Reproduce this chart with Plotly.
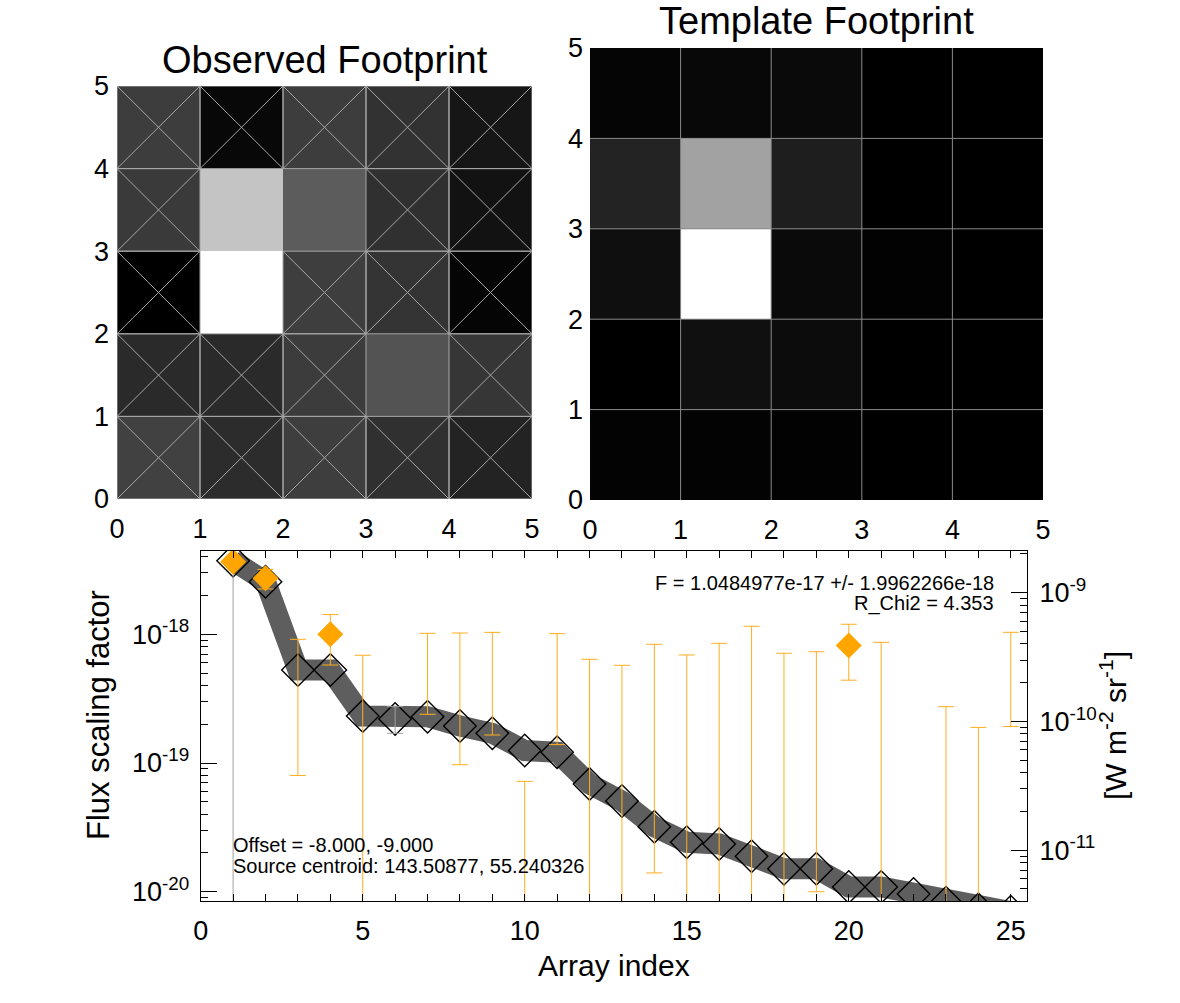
import math
import plotly.graph_objects as go

W, H = 1180, 1003
FONT = "Liberation Sans, Arial, Helvetica, sans-serif"

# ---------------- data ----------------
# grey levels (0-255), rows listed from bottom (y=0..1) to top (y=4..5)
obs_gray = [
    [65, 44, 62, 48, 35],
    [42, 42, 60, 83, 54],
    [0, 255, 62, 52, 5],
    [58, 196, 92, 48, 18],
    [61, 8, 61, 50, 22],
]
# 1 = pixel crossed out (masked) in the observed footprint
obs_masked = [
    [1, 1, 1, 1, 1],
    [1, 1, 1, 0, 1],
    [1, 0, 1, 1, 1],
    [1, 0, 0, 1, 1],
    [1, 1, 1, 1, 1],
]
tmpl_gray = [
    [3, 3, 2, 0, 0],
    [0, 16, 12, 0, 0],
    [15, 255, 10, 2, 0],
    [35, 162, 30, 0, 0],
    [5, 8, 10, 0, 0],
]

array_index = list(range(1, 26))
model_flux = [3.73e-18, 2.56e-18, 5.28e-19, 5.28e-19, 2.32e-19, 2.20e-19, 2.29e-19,
              1.94e-19, 1.70e-19, 1.25e-19, 1.21e-19, 6.87e-20, 5.07e-20, 3.20e-20,
              2.42e-20, 2.35e-20, 1.89e-20, 1.51e-20, 1.51e-20, 1.09e-20, 1.09e-20,
              9.6e-21, 8.2e-21, 7.3e-21, 7.0e-21]
data_flux = [3.66e-18, 2.72e-18, 4.97e-19, 1.00e-18, 2.5e-19, 2.22e-19, 6.28e-19,
             5.60e-19, 6.00e-19, -3.6e-19, 5.75e-19, 2.0e-19, 1.4e-19, 4.25e-19,
             2.6e-19, 4.1e-19, 5.6e-19, 2.8e-19, 3.71e-19, 8.18e-19, 4.3e-19,
             -5.0e-19, -1.6e-19, -2.4e-19, 6.14e-19]
data_err = [3.7e-18, 4.7e-19, 4.17e-19, 4.23e-19, 4.37e-19, 5.2e-20, 3.89e-19,
            4.63e-19, 4.35e-19, 4.32e-19, 4.36e-19, 4.39e-19, 4.34e-19, 4.11e-19,
            4.31e-19, 4.41e-19, 5.94e-19, 4.32e-19, 3.61e-19, 3.78e-19, 4.36e-19,
            4.3e-19, 4.34e-19, 4.29e-19, 4.22e-19]
detected_idx = [1, 2, 4, 20]
grey_bar_idx = [1, 6]
flux_to_surface = 4.752e8   # right-axis conversion factor
fit_text = ["F = 1.0484977e-17 +/- 1.9962266e-18", "R_Chi2 = 4.353"]
info_text = ["Offset = -8.000, -9.000", "Source centroid: 143.50877, 55.240326"]

yrange_log = [-20.072, -17.353]
xrange_bottom = [0, 25.5]

# ---------------- helpers ----------------
def fx(p):
    return p / W

def fy(p):
    return 1 - p / H

centers = [0.5, 1.5, 2.5, 3.5, 4.5]
gray_scale = [[0, "#000000"], [1, "#ffffff"]]

fig = go.Figure()

# Observed footprint
fig.add_trace(go.Heatmap(z=obs_gray, x=centers, y=centers, colorscale=gray_scale,
                         zmin=0, zmax=255, showscale=False, hoverinfo="skip",
                         xaxis="x", yaxis="y"))
cx, cy = [], []
for r, row in enumerate(obs_masked):
    for c, m in enumerate(row):
        if m:
            cx += [c, c + 1, c + 1, c, c, None, c, c + 1, None, c, c + 1, None]
            cy += [r, r, r + 1, r + 1, r, None, r, r + 1, None, r + 1, r, None]
fig.add_trace(go.Scatter(x=cx, y=cy, mode="lines", line=dict(color="#a6a6a6", width=1),
                         hoverinfo="skip", showlegend=False, xaxis="x", yaxis="y"))

# Template footprint
fig.add_trace(go.Heatmap(z=tmpl_gray, x=centers, y=centers, colorscale=gray_scale,
                         zmin=0, zmax=255, showscale=False, hoverinfo="skip",
                         xaxis="x2", yaxis="y2"))
gx, gy = [], []
for k in range(1, 5):
    gx += [k, k, None, 0, 5, None]
    gy += [0, 5, None, k, k, None]
fig.add_trace(go.Scatter(x=gx, y=gy, mode="lines", line=dict(color="#8a8a8a", width=1),
                         hoverinfo="skip", showlegend=False, xaxis="x2", yaxis="y2"))

# Bottom panel
fig.add_trace(go.Scatter(x=array_index, y=model_flux, mode="lines",
                         line=dict(color="#5e5e5e", width=21),
                         showlegend=False, xaxis="x3", yaxis="y3"))
fig.add_trace(go.Scatter(x=array_index, y=model_flux, mode="markers",
                         marker=dict(symbol="diamond-open", size=25, color="black",
                                     line=dict(width=1.4, color="black")),
                         showlegend=False, xaxis="x3", yaxis="y3"))

top_vals = [v + e for v, e in zip(data_flux, data_err)]
def bar_trace(sel, color):
    xs, ys, minus = [], [], []
    for i, t, e in zip(array_index, top_vals, data_err):
        if sel(i) and t > 0:
            xs.append(i)
            ys.append(t)
            minus.append(2 * e)
    return go.Scatter(x=xs, y=ys, mode="markers", marker=dict(size=2, opacity=0),
                      error_y=dict(type="data", symmetric=False, array=[0] * len(xs),
                                   arrayminus=minus, color=color, thickness=1, width=8),
                      showlegend=False, hoverinfo="skip", xaxis="x3", yaxis="y3")

fig.add_trace(bar_trace(lambda i: i not in grey_bar_idx, "#ffad1f"))
fig.add_trace(bar_trace(lambda i: i in grey_bar_idx, "#a0a0a0"))

fig.add_trace(go.Scatter(x=[i for i in array_index if i in detected_idx],
                         y=[v for i, v in zip(array_index, data_flux) if i in detected_idx],
                         mode="markers",
                         marker=dict(symbol="diamond", size=20, color="#ffa500",
                                     line=dict(width=0)),
                         showlegend=False, xaxis="x3", yaxis="y3"))

# invisible trace that carries the right-hand (surface brightness) axis
fig.add_trace(go.Scatter(x=array_index, y=[m * flux_to_surface for m in model_flux],
                         mode="lines", line=dict(width=0), opacity=0,
                         hoverinfo="skip", showlegend=False, xaxis="x3", yaxis="y4"))

# ---------------- layout ----------------
tick_font = dict(family=FONT, size=27, color="black")
img_ax = dict(range=[0, 5], tickmode="array", tickvals=[0, 1, 2, 3, 4, 5], ticks="",
              showgrid=False, zeroline=False, showline=False, tickfont=tick_font,
              fixedrange=True)

dec_lo, dec_hi = math.floor(yrange_log[0]), math.ceil(yrange_log[1])
left_major = [10.0 ** d for d in range(dec_lo, dec_hi + 1)]
left_minor = [k * 10.0 ** d for d in range(dec_lo, dec_hi) for k in range(2, 10)]
shift = math.log10(flux_to_surface)
r_range = [yrange_log[0] + shift, yrange_log[1] + shift]
rdec_lo, rdec_hi = math.floor(r_range[0]), math.ceil(r_range[1])
right_major = [10.0 ** d for d in range(rdec_lo, rdec_hi + 1)]
right_minor = [k * 10.0 ** d for d in range(rdec_lo, rdec_hi) for k in range(2, 10)]

def pow_label(v):
    return "10<sup>%d</sup>" % round(math.log10(v))

annotations = [
    dict(text="Observed Footprint", x=fx(324.5), y=fy(60), xref="paper", yref="paper",
         showarrow=False, font=dict(family=FONT, size=38, color="black"),
         xanchor="center", yanchor="middle"),
    dict(text="Template Footprint", x=fx(816.5), y=fy(21), xref="paper", yref="paper",
         showarrow=False, font=dict(family=FONT, size=38, color="black"),
         xanchor="center", yanchor="middle"),
    dict(text="Array index", x=fx(614), y=fy(965), xref="paper", yref="paper",
         showarrow=False, font=dict(family=FONT, size=30, color="black"),
         xanchor="center", yanchor="middle"),
    dict(text="Flux scaling factor", x=fx(98), y=fy(715), xref="paper", yref="paper",
         showarrow=False, textangle=-90, font=dict(family=FONT, size=31, color="black"),
         xanchor="center", yanchor="middle"),
    dict(text="[W m<sup>-2</sup> sr<sup>-1</sup>]", x=fx(1113), y=fy(726), xref="paper",
         yref="paper", showarrow=False, textangle=-90,
         font=dict(family=FONT, size=30, color="black"),
         xanchor="center", yanchor="middle"),
]
for k, t in enumerate(fit_text):
    annotations.append(dict(text=t, x=fx(996), y=fy(583 + 20 * k), xref="paper", yref="paper",
                            showarrow=False, font=dict(family=FONT, size=20, color="black"),
                            xanchor="right", yanchor="middle"))
for k, t in enumerate(info_text):
    annotations.append(dict(text=t, x=fx(231), y=fy(845 + 20.5 * k), xref="paper", yref="paper",
                            showarrow=False, font=dict(family=FONT, size=20, color="black"),
                            xanchor="left", yanchor="middle"))

fig.update_layout(
    width=W, height=H, margin=dict(l=0, r=0, t=0, b=0, pad=0, autoexpand=False),
    paper_bgcolor="white", plot_bgcolor="white", showlegend=False,
    font=dict(family=FONT, color="black"),
    xaxis=dict(domain=[fx(117), fx(532)], anchor="y", ticklabelstandoff=11, **img_ax),
    yaxis=dict(domain=[fy(499), fy(86)], anchor="x", ticklabelstandoff=7, **img_ax),
    xaxis2=dict(domain=[fx(590), fx(1043)], anchor="y2", ticklabelstandoff=11, **img_ax),
    yaxis2=dict(domain=[fy(500), fy(48)], anchor="x2", ticklabelstandoff=6, **img_ax),
    xaxis3=dict(domain=[fx(200.7), fx(1027)], anchor="y3", range=xrange_bottom,
                tickmode="array", tickvals=[0, 5, 10, 15, 20, 25], ticks="inside",
                ticklen=7, tickwidth=1, tickcolor="black", ticklabelstandoff=6,
                minor=dict(dtick=1, tick0=0, ticks="inside", ticklen=4, tickcolor="black",
                           showgrid=False),
                showline=True, linecolor="black", linewidth=1, mirror="allticks",
                showgrid=False, zeroline=False, tickfont=tick_font, layer="above traces"),
    yaxis3=dict(domain=[fy(901), fy(551)], anchor="x3", type="log", range=yrange_log,
                tickmode="array", tickvals=left_major,
                ticktext=[pow_label(v) for v in left_major], ticks="inside", ticklen=16,
                tickwidth=1, tickcolor="black", ticklabelstandoff=5,
                minor=dict(tickmode="array", tickvals=left_minor, ticks="inside",
                           ticklen=7, tickcolor="black", showgrid=False),
                showline=True, linecolor="black", linewidth=1, mirror=True,
                showgrid=False, zeroline=False, tickfont=tick_font, layer="above traces"),
    yaxis4=dict(overlaying="y3", anchor="x3", side="right", type="log", range=r_range,
                tickmode="array", tickvals=right_major,
                ticktext=[pow_label(v) for v in right_major], ticks="inside", ticklen=16,
                tickwidth=1, tickcolor="black", ticklabelstandoff=6,
                minor=dict(tickmode="array", tickvals=right_minor, ticks="inside",
                           ticklen=7, tickcolor="black", showgrid=False),
                showline=True, linecolor="black", linewidth=1,
                showgrid=False, zeroline=False, tickfont=tick_font, layer="above traces"),
    annotations=annotations,
)

fig.write_html("out.html")
